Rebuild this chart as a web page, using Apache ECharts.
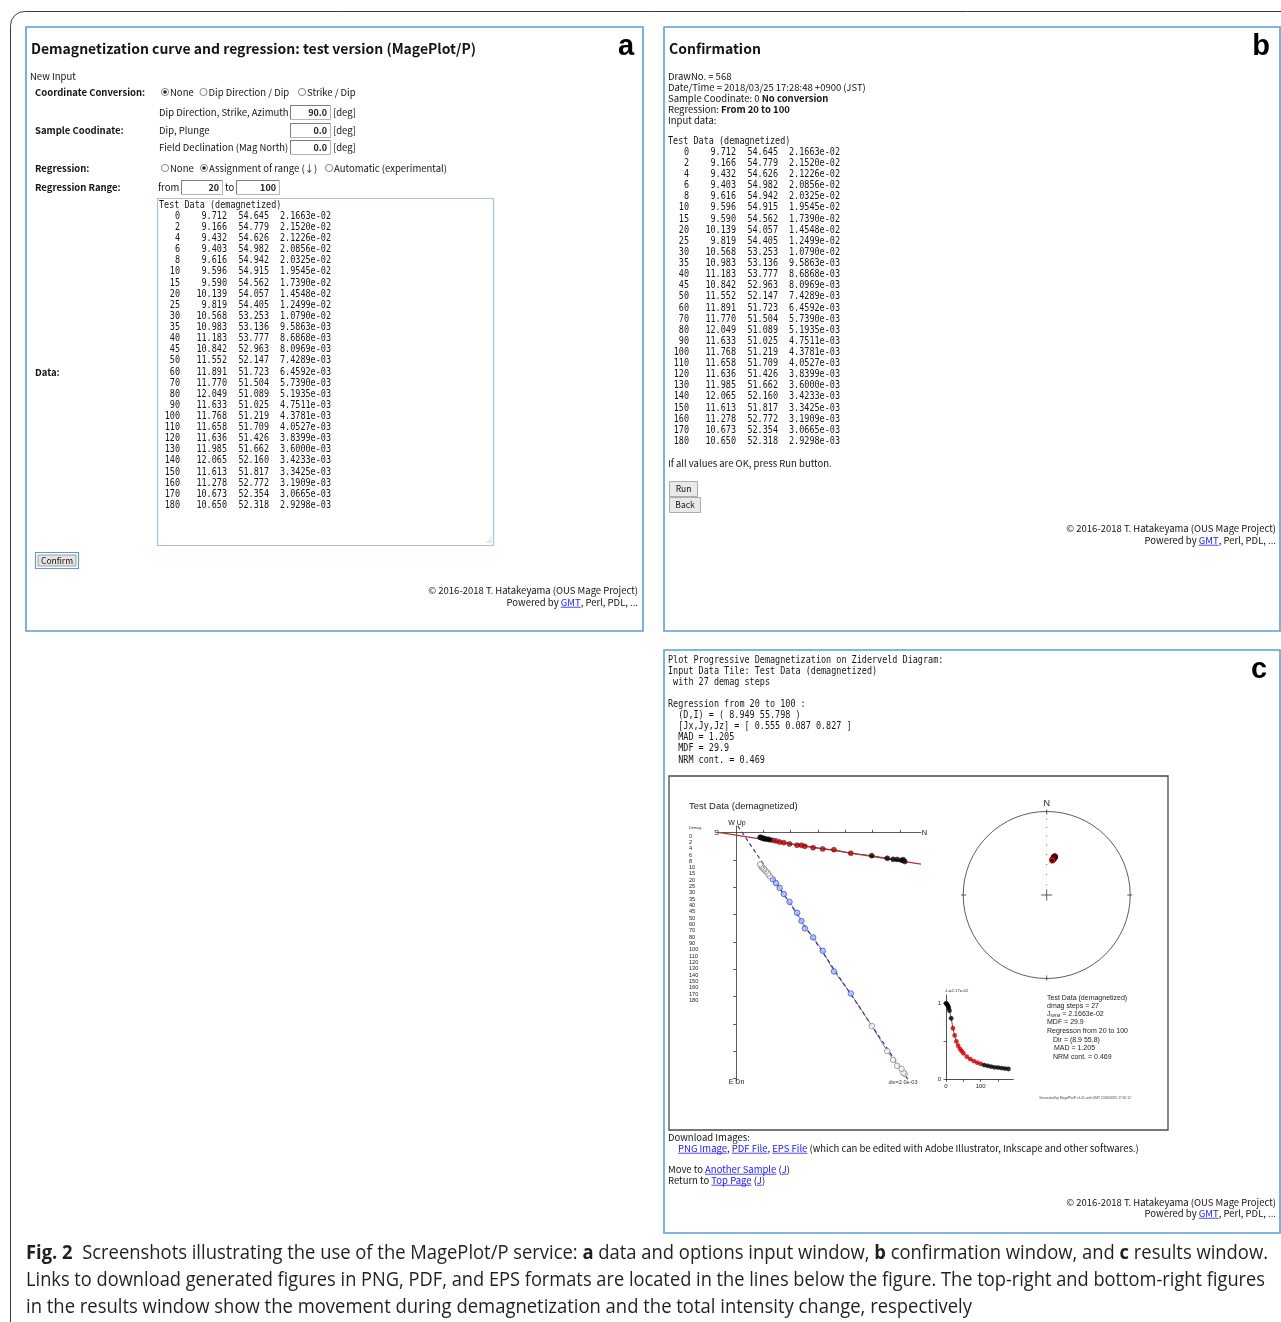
<!DOCTYPE html>
<html><head><meta charset="utf-8"><title>MagePlot/P screenshots</title>
<script src="https://cdn.jsdelivr.net/npm/echarts@6.0.0/dist/echarts.min.js"></script>
<style>html,body{margin:0;padding:0;background:#fff;}#main{width:1281px;height:1322px;}</style>
</head><body><div id="main"></div>
<script>
// ================= DATA =================
const steps = [0,2,4,6,8,10,15,20,25,30,35,40,45,50,60,70,80,90,100,110,120,130,140,150,160,170,180];
const declination = [9.712,9.166,9.432,9.403,9.616,9.596,9.590,10.139,9.819,10.568,10.983,11.183,10.842,11.552,11.891,11.770,12.049,11.633,11.768,11.658,11.636,11.985,12.065,11.613,11.278,10.673,10.650];
const inclination = [54.645,54.779,54.626,54.982,54.942,54.915,54.562,54.057,54.405,53.253,53.136,53.777,52.963,52.147,51.723,51.504,51.089,51.025,51.219,51.709,51.426,51.662,52.160,51.817,52.772,52.354,52.318];
const intensity = [2.1663e-2,2.1520e-2,2.1226e-2,2.0856e-2,2.0325e-2,1.9545e-2,1.7390e-2,1.4548e-2,1.2499e-2,1.0790e-2,9.5863e-3,8.6868e-3,8.0969e-3,7.4289e-3,6.4592e-3,5.7390e-3,5.1935e-3,4.7511e-3,4.3781e-3,4.0527e-3,3.8399e-3,3.6000e-3,3.4233e-3,3.3425e-3,3.1909e-3,3.0665e-3,2.9298e-3];
const regFrom = 20, regTo = 100;
const regDI = [8.949, 55.798];
const regVec = [0.555, 0.087, 0.827];
const madVal = 1.205, mdfVal = 29.9, nrmCont = 0.469;
const zijTicksX = [0.002,0.004,0.006,0.008,0.010,0.012];
const zijTicksY = [0.002,0.004,0.006,0.008,0.010,0.012,0.014,0.016,0.018];
const stereoIncTicks = [10,20,30,40,50,60,70,80];
const intTicksX = [0,50,100,150], intLabelsX = [0,100];
const intTicksY = [0,0.5,1], intLabelsY = [0,1];

// ================= HELPERS =================
const UI = '"Noto Sans CJK JP","Noto Sans",sans-serif';
const MONO = '"DejaVu Sans Mono","Liberation Mono",monospace';
const HEL = '"Liberation Sans",Arial,sans-serif';
const CAPF = '"Open Sans","Noto Sans",sans-serif';
const MO = {f:MONO, s:11, sx:0.77};
const ctx = document.createElement('canvas').getContext('2d');
function fnt(o){return (o.b?'bold ':'')+(o.s||10)+'px '+(o.f||UI);}
function mw(t,o){ctx.font=fnt(o);return ctx.measureText(t).width*(o.sx||1);}
const G = [];
function T(x,y,t,o={}){
  const a=o.a||'left';
  let sx=o.sx||1;
  if(o.fit){sx=o.fit/mw(t,Object.assign({},o,{sx:1}));}
  G.push({type:'text',x:x,y:y,scaleX:sx,silent:true,
    style:{text:t,font:fnt(o),fill:o.c||'#141414',textAlign:a,textVerticalAlign:'middle',align:a,verticalAlign:'middle'}});
}
function L(x1,y1,x2,y2,c,w){G.push({type:'line',silent:true,shape:{x1:x1,y1:y1,x2:x2,y2:y2},style:{stroke:c||'#000',lineWidth:w||1}});}
function R(x,y,w,h,o={}){G.push({type:'rect',silent:true,shape:{x:x,y:y,width:w,height:h,r:o.r||0},style:{fill:o.fill||'none',stroke:o.stroke||'#000',lineWidth:o.lw||1}});}
function C(cx,cy,r,o={}){G.push({type:'circle',silent:true,shape:{cx:cx,cy:cy,r:r},style:{fill:o.fill||'none',stroke:o.stroke||null,lineWidth:o.lw||1}});}
const LINK='#1a1aff';
function partsWidth(parts,o){return parts.reduce((w,p)=>w+mw(p[0],Object.assign({},o,{b:(p[1]||'').includes('b')})),0);}
function S(x,y,parts,o={}){
  const oo=p=>Object.assign({},o,{a:'left',b:(p[1]||'').includes('b'),c:(p[1]||'').includes('l')?LINK:o.c});
  const total=parts.reduce((w,p)=>w+mw(p[0],oo(p)),0);
  let cx=o.a==='right'?x-total:x;
  parts.forEach(p=>{const q=oo(p);T(cx,y,p[0],q);const w=mw(p[0],q);
    if((p[1]||'').includes('l'))L(cx,y+(o.s||10)*0.55,cx+w,y+(o.s||10)*0.55,LINK,0.8);cx+=w;});
}
function radio(x,y,on){C(x,y,3.6,{fill:'#fff',stroke:'#7a7a7a',lw:0.9});if(on)C(x,y,1.8,{fill:'#222'});}
function input(x,y,w,h,v){R(x+0.5,y+0.5,w,h,{fill:'#fff',stroke:'#b5b5b5'});L(x+0.5,y+0.5,x+w,y+0.5,'#7d7d7d',1);L(x+0.5,y+0.5,x+0.5,y+h,'#7d7d7d',1);T(x+w-3,y+h/2+0.5,v,{s:9,b:1,c:'#222',a:'right'});}
const fmtE=v=>v.toExponential(4).replace(/e([+-])(\d)$/,'e$10$2');
const fmtE2=v=>v.toExponential(2).replace(/e([+-])(\d)$/,'e$10$2');

// ================= FRAMES =================
const PB='#5d9cd8';
R(10.5,11.5,1320,1420,{r:14,stroke:'#3c3c3c',lw:1});
R(26,27,617,604,{stroke:PB,lw:1.6});
R(664,27,616,604,{stroke:PB,lw:1.6});
R(664,650,616,583,{stroke:PB,lw:1.6});

// ================= PANEL A =================
const U={s:9.5};
const UB={s:9.5,b:1};
T(31,49,'Demagnetization curve and regression: test version (MagePlot/P)',{b:1,s:14,fit:445});
T(626,47,'a',{b:1,s:29,f:HEL,a:'center',c:'#000'});
T(30,76,'New Input',U);
T(35,92,'Coordinate Conversion:',UB);
radio(165,92,true);T(170,92,'None',U);
radio(203.5,92,false);T(208.5,92,'Dip Direction / Dip',U);
radio(302,92,false);T(307,92,'Strike / Dip',U);
T(159,112,'Dip Direction, Strike, Azimuth',U);input(290,105,40,14,'90.0');T(333,112,'[deg]',U);
T(35,130,'Sample Coodinate:',UB);
T(159,130,'Dip, Plunge',U);input(290,123,40,14,'0.0');T(333,130,'[deg]',U);
T(159,147,'Field Declination (Mag North)',U);input(290,140,40,14,'0.0');T(333,147,'[deg]',U);
T(35,168,'Regression:',UB);
radio(165,168,false);T(170,168,'None',U);
radio(204,168,true);T(209,168,'Assignment of range (↓)',U);
radio(329,168,false);T(334,168,'Automatic (experimental)',U);
T(35,187,'Regression Range:',UB);
T(158,187,'from',U);input(181,180,41,14,String(regFrom));T(225,187,'to',U);input(236,180,43,14,String(regTo));
R(157.5,198.5,336,347,{stroke:'#a8c4e6',lw:1.2});
[[489,542],[491,540],[491,542],[487,542],[489,540],[491,538]].forEach(p=>C(p[0],p[1],0.5,{fill:'#999'}));
T(35,372,'Data:',UB);
R(35.5,552.5,43,16,{stroke:PB,fill:'#fff',lw:1.2});R(38,555,38,11,{fill:'#e4e4e4',stroke:'#8c8c8c',lw:0.8});
T(57,561,'Confirm',{s:8.5,a:'center'});
S(638,590,[['© 2016-2018 T. Hatakeyama (OUS Mage Project)']],{s:9.5,a:'right'});
S(638,602,[['Powered by '],['GMT','l'],[', Perl, PDL, ...']],{s:9.5,a:'right'});

function dataTable(xh,yh,xs,xd,xi,xj,y0){
  T(xh,yh,'Test Data (demagnetized)',MO);
  steps.forEach((s,i)=>{const y=y0+i*11.12;
    T(xs,y,String(s),Object.assign({a:'right'},MO));
    T(xd,y,declination[i].toFixed(3),Object.assign({a:'right'},MO));
    T(xi,y,inclination[i].toFixed(3),Object.assign({a:'right'},MO));
    T(xj,y,fmtE(intensity[i]),Object.assign({a:'right'},MO));});
}
dataTable(159,205,180,227,269,331,216);

// ================= PANEL B =================
T(669,49,'Confirmation',{b:1,s:14});
T(1261,47,'b',{b:1,s:29,f:HEL,a:'center',c:'#000'});
T(668,76,'DrawNo. = 568',U);
T(668,87,'Date/Time = 2018/03/25 17:28:48 +0900 (JST)',U);
S(668,98,[['Sample Coodinate: 0 '],['No conversion','b']],U);
S(668,109,[['Regression: '],['From '+regFrom+' to '+regTo,'b']],U);
T(668,120,'Input data:',U);
dataTable(668,141,689,736,778,840,152);
T(668,463,'If all values are OK, press Run button.',U);
R(669.5,481.5,28,15,{fill:'#e9e9e9',stroke:'#adadad'});T(683.5,489,'Run',{s:8.5,a:'center'});
R(669.5,497.5,31,15,{fill:'#e9e9e9',stroke:'#adadad'});T(685,505,'Back',{s:8.5,a:'center'});
S(1276,528,[['© 2016-2018 T. Hatakeyama (OUS Mage Project)']],{s:9.5,a:'right'});
S(1276,540,[['Powered by '],['GMT','l'],[', Perl, PDL, ...']],{s:9.5,a:'right'});

// ================= PANEL C (text) =================
T(1259,670,'c',{b:1,s:29,f:HEL,a:'center',c:'#000'});
[[660,'Plot Progressive Demagnetization on Ziderveld Diagram:'],
 [671,'Input Data Tile: Test Data (demagnetized)'],
 [682,' with '+steps.length+' demag steps'],
 [704,'Regression from '+regFrom+' to '+regTo+' :'],
 [715,'  (D,I) = ( '+regDI[0].toFixed(3)+' '+regDI[1].toFixed(3)+' )'],
 [726,'  [Jx,Jy,Jz] = [ '+regVec.map(v=>v.toFixed(3)).join(' ')+' ]'],
 [737,'  MAD = '+madVal.toFixed(3)],
 [748,'  MDF = '+mdfVal.toFixed(1)],
 [760,'  NRM cont. = '+nrmCont.toFixed(3)]].forEach(r=>T(668,r[0],r[1],MO));
R(669,776,499,354,{stroke:'#4a4a4a',lw:1.3});
T(668,1137,'Download Images:',U);
S(678,1148,[['PNG Image','l'],[', '],['PDF File','l'],[', '],['EPS File','l'],[' (which can be edited with Adobe Illustrator, Inkscape and other softwares.)']],U);
S(668,1169,[['Move to '],['Another Sample','l'],[' ('],['J','l'],[')']],U);
S(668,1180,[['Return to '],['Top Page','l'],[' ('],['J','l'],[')']],U);
S(1276,1202,[['© 2016-2018 T. Hatakeyama (OUS Mage Project)']],{s:9.5,a:'right'});
S(1276,1213,[['Powered by '],['GMT','l'],[', Perl, PDL, ...']],{s:9.5,a:'right'});

// plot labels
T(689,806,'Test Data (demagnetized)',{f:HEL,s:9.5,c:'#222'});
T(689,828,'Demag',{f:HEL,s:3.8,c:'#333'});
steps.forEach((s,i)=>T(689,836+i*6.32,String(s),{f:HEL,s:5.6,c:'#222'}));
T(716.5,833,'S',{f:HEL,s:7.5,a:'center',c:'#222'});
T(924.5,833,'N',{f:HEL,s:7.5,a:'center',c:'#222'});
T(737,823.5,'W Up',{f:HEL,s:7,a:'center',c:'#222'});
T(736.5,1082,'E Dn',{f:HEL,s:7,a:'center',c:'#222'});
T(903,1082,'div='+fmtE2(0.002).replace('.00e','.0e'),{f:HEL,s:5.5,a:'center',c:'#333'});
T(1046.7,803.5,'N',{f:HEL,s:9,a:'center',c:'#222'});
T(945,991,'J₀='+fmtE2(intensity[0]),{f:HEL,s:4.3,c:'#333'});
const TB={f:HEL,s:7,c:'#222'};
T(1047,998.3,'Test Data (demagnetized)',TB);
T(1047,1006.2,'dmag steps = '+steps.length,TB);
(function(){const x=1047,y=1014.3;T(x,y,'J',TB);const w=mw('J',TB);T(x+w,y+1.8,'NRM',{f:HEL,s:4.3,c:'#222'});
 T(x+w+mw('NRM',{f:HEL,s:4.3}),y,' = '+fmtE(intensity[0]),TB);})();
T(1047,1022.3,'MDF = '+mdfVal.toFixed(1),TB);
T(1047,1031,'Regresson from '+regFrom+' to '+regTo,TB);
T(1053,1040,'Dir = ('+regDI[0].toFixed(1)+' '+regDI[1].toFixed(1)+')',TB);
T(1054,1048.3,'MAD = '+madVal.toFixed(3),TB);
T(1053,1056.7,'NRM cont. = '+nrmCont.toFixed(3),TB);
T(1039,1098,'Generated by MagePlotP v1.01 with GMT 2018/03/25 17:30:12',{f:HEL,s:4,fit:92,c:'#444'});

// ================= CAPTION =================
const CO={f:CAPF,s:19.5,c:'#231f20'};
const cap1=[['Fig. 2','b'],['  Screenshots illustrating the use of the MagePlot/P service: '],['a','b'],[' data and options input window, '],['b','b'],[' confirmation window, and '],['c','b'],[' results window.']];
const cap2=[['Links to download generated figures in PNG, PDF, and EPS formats are located in the lines below the figure. The top-right and bottom-right figures']];
const cap3=[['in the results window show the movement during demagnetization and the total intensity change, respectively']];
[[cap1,1253,1242],[cap2,1280,1239],[cap3,1307,946]].forEach(c=>{
  const o=Object.assign({},CO);o.sx=c[2]/partsWidth(c[0],CO);S(26,c[1],c[0],o);});

// ================= COMPUTED SERIES DATA =================
const rad=Math.PI/180;
const inReg=s=>s>=regFrom&&s<=regTo;
const comp=steps.map((s,i)=>{const J=intensity[i],I=inclination[i]*rad,D=declination[i]*rad,H=J*Math.cos(I);
  return [H*Math.cos(D),H*Math.sin(D),J*Math.sin(I)];});
const regIdx=steps.map((s,i)=>i).filter(i=>inReg(steps[i]));
const cen=[0,1,2].map(k=>regIdx.reduce((a,i)=>a+comp[i][k],0)/regIdx.length);
const X0=-0.0014,X1=0.01355,Y0=-0.0005,Y1=0.0182;
const hLine=[X0,X1].map(n=>{const t=(n-cen[0])/regVec[0];return [n,cen[1]+t*regVec[1]];});
const vLine=[Y0,Y1].map(z=>{const t=(z-cen[2])/regVec[2];return [cen[0]+t*regVec[0],z];});
const hPts=comp.map((c,i)=>({value:[c[0],c[1]],itemStyle:{color:inReg(steps[i])?'#d40000':'#000',borderColor:'#1a1a1a',borderWidth:0.6}}));
const vPts=comp.map((c,i)=>({value:[c[0],c[2]],itemStyle:inReg(steps[i])?{color:'#b3bbff',borderColor:'#2b45d8',borderWidth:0.9}:{color:'#fff',borderColor:'#7a7a7a',borderWidth:0.9}}));
const eqA=inc=>Math.SQRT2*Math.sin((90-inc)/2*rad);
const stPts=steps.map((s,i)=>{const r=eqA(inclination[i]),d=declination[i]*rad;
  return {value:[r*Math.sin(d),r*Math.cos(d)],itemStyle:{color:inReg(s)?'#c00000':'#6a0000',borderColor:'#400',borderWidth:0.5}};});
const regSt=(()=>{const r=eqA(regDI[1]),d=regDI[0]*rad;return [[r*Math.sin(d),r*Math.cos(d)]];})();
const intPts=steps.map((s,i)=>({value:[s,intensity[i]/intensity[0]],itemStyle:{color:inReg(s)?'#d40000':'#000'}}));

const axTxt={fontFamily:'Liberation Sans',fontSize:6,color:'#222'};
const option={
  animation:false,
  graphic:{elements:G},
  grid:[
    {left:717,top:825.9,width:204,height:255.2},
    {left:963.2,top:811.5,width:167,height:167},
    {left:946,top:995,width:67.3,height:84.3}
  ],
  xAxis:[
    {gridIndex:0,type:'value',min:X0,max:X1,axisLine:{onZero:true,lineStyle:{color:'#333',width:0.8}},
     axisTick:{customValues:zijTicksX,inside:true,length:3,lineStyle:{color:'#333',width:0.8}},axisLabel:{show:false},splitLine:{show:false}},
    {gridIndex:1,type:'value',min:-1,max:1,show:false},
    {gridIndex:2,type:'value',min:0,max:194,axisLine:{onZero:false,lineStyle:{color:'#222',width:0.8}},
     axisTick:{customValues:intTicksX,length:2.5,lineStyle:{color:'#222',width:0.7}},
     axisLabel:Object.assign({customValues:intLabelsX,margin:4},axTxt),splitLine:{show:false}}
  ],
  yAxis:[
    {gridIndex:0,type:'value',inverse:true,min:Y0,max:Y1,axisLine:{onZero:true,lineStyle:{color:'#333',width:0.8}},
     axisTick:{customValues:zijTicksY,length:3,lineStyle:{color:'#333',width:0.8}},axisLabel:{show:false},splitLine:{show:false}},
    {gridIndex:1,type:'value',min:-1,max:1,show:false},
    {gridIndex:2,type:'value',min:0,max:1.109,axisLine:{onZero:false,lineStyle:{color:'#222',width:0.8}},
     axisTick:{customValues:intTicksY,length:2.5,lineStyle:{color:'#222',width:0.7}},
     axisLabel:Object.assign({customValues:intLabelsY,margin:5},axTxt),splitLine:{show:false}}
  ],
  series:[
    {type:'line',xAxisIndex:0,yAxisIndex:0,data:comp.map(c=>[c[0],c[1]]),symbol:'none',lineStyle:{color:'#111',width:0.7},silent:true,z:2},
    {type:'line',xAxisIndex:0,yAxisIndex:0,data:comp.map(c=>[c[0],c[2]]),symbol:'none',lineStyle:{color:'#333',width:0.6},silent:true,z:2},
    {type:'line',xAxisIndex:0,yAxisIndex:0,data:hLine,symbol:'none',lineStyle:{color:'#b8312f',width:1.1},silent:true,z:3},
    {type:'line',xAxisIndex:0,yAxisIndex:0,data:vLine,symbol:'none',lineStyle:{color:'#2233a8',width:1.1,type:[4,3]},silent:true,z:3},
    {type:'scatter',xAxisIndex:0,yAxisIndex:0,data:vPts,symbolSize:5.5,silent:true,z:4},
    {type:'scatter',xAxisIndex:0,yAxisIndex:0,data:hPts,symbolSize:5,silent:true,z:4},
    {type:'custom',xAxisIndex:1,yAxisIndex:1,data:[[0,0]],silent:true,z:2,
     renderItem:function(params,api){
       const c=api.coord([0,0]),e=api.coord([1,0]),Rr=e[0]-c[0];
       const st={stroke:'#333',lineWidth:0.8,fill:null};
       const ch=[{type:'circle',shape:{cx:c[0],cy:c[1],r:Rr},style:st}];
       [[0,1],[1,0],[0,-1],[-1,0]].forEach(d=>{
         ch.push({type:'line',shape:{x1:c[0]+d[0]*(Rr-3),y1:c[1]-d[1]*(Rr-3),x2:c[0]+d[0]*(Rr+2),y2:c[1]-d[1]*(Rr+2)},style:st});});
       ch.push({type:'line',shape:{x1:c[0]-5.5,y1:c[1],x2:c[0]+5.5,y2:c[1]},style:st});
       ch.push({type:'line',shape:{x1:c[0],y1:c[1]-5.5,x2:c[0],y2:c[1]+5.5},style:st});
       stereoIncTicks.forEach(inc=>{const p=api.coord([0,eqA(inc)]);
         ch.push({type:'circle',shape:{cx:p[0],cy:p[1],r:0.55},style:{fill:'#555'}});});
       return {type:'group',children:ch};
     }},
    {type:'scatter',xAxisIndex:1,yAxisIndex:1,data:stPts,symbolSize:5.5,silent:true,z:4},
    {type:'scatter',xAxisIndex:1,yAxisIndex:1,data:regSt,symbolSize:5.5,itemStyle:{color:'none',borderColor:'#d24a4a',borderWidth:0.9},silent:true,z:5},
    {type:'line',xAxisIndex:2,yAxisIndex:2,data:steps.map((s,i)=>[s,intensity[i]/intensity[0]]),symbol:'none',lineStyle:{color:'#111',width:0.7},silent:true,z:2},
    {type:'scatter',xAxisIndex:2,yAxisIndex:2,data:intPts,symbolSize:4.8,silent:true,z:4}
  ]
};
const chart=echarts.init(document.getElementById('main'),null,{renderer:'canvas'});
chart.setOption(option);
</script></body></html>
